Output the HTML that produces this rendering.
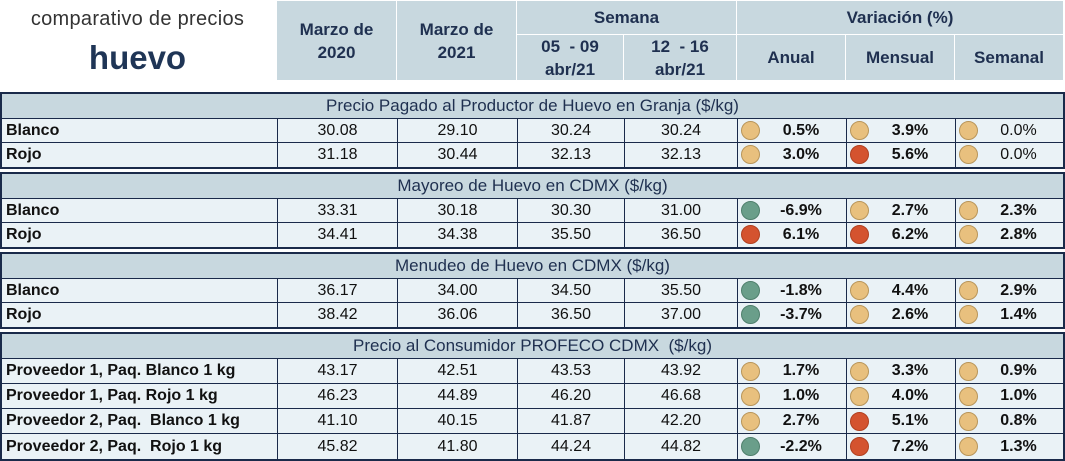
<!DOCTYPE html>
<html><head><meta charset="utf-8">
<style>
body{margin:0;width:1065px;height:460px;background:#fff;position:relative;overflow:hidden;font-family:"Liberation Sans",sans-serif;}
.a{position:absolute;box-sizing:border-box;}
.h{background:#c8d8df;color:#1f3050;font-weight:bold;font-size:17px;display:flex;align-items:center;justify-content:center;text-align:center;line-height:23px;}
.c{background:#eaf2f6;border-right:1px solid #1a2a4a;border-bottom:1px solid #1a2a4a;display:flex;align-items:center;font-size:16px;color:#111;white-space:pre;}
.s{background:#c8d8df;border-bottom:1px solid #1a2a4a;display:flex;align-items:center;justify-content:center;font-size:17px;color:#1f3050;white-space:pre;}
.box{border:2px solid #1a2a4a;}
.dot{position:absolute;left:3px;width:19px;height:19px;border-radius:50%;box-sizing:border-box;}
</style></head><body>
<div class="a" style="left:0;top:8px;width:275px;text-align:center;font-size:20px;color:#333;letter-spacing:0.3px">comparativo de precios</div>
<div class="a" style="left:0;top:39px;width:275px;text-align:center;font-size:33px;font-weight:bold;color:#1f3556">huevo</div>
<div class="a h" style="left:277px;top:1px;width:119px;height:79px">Marzo de<br>2020</div>
<div class="a h" style="left:397px;top:1px;width:119px;height:79px">Marzo de<br>2021</div>
<div class="a h" style="left:517px;top:1px;width:219px;height:33px">Semana</div>
<div class="a h" style="left:737px;top:1px;width:326px;height:33px">Variación (%)</div>
<div class="a h" style="left:517px;top:35px;width:106px;height:45px">05 &nbsp;- 09<br>abr/21</div>
<div class="a h" style="left:624px;top:35px;width:112px;height:45px">12 &nbsp;- 16<br>abr/21</div>
<div class="a h" style="left:737px;top:35px;width:108px;height:45px">Anual</div>
<div class="a h" style="left:846px;top:35px;width:108px;height:45px">Mensual</div>
<div class="a h" style="left:955px;top:35px;width:108px;height:45px">Semanal</div>
<div id="t"></div>
<script>
const sections=["Precio Pagado al Productor de Huevo en Granja ($/kg)","Mayoreo de Huevo en CDMX ($/kg)","Menudeo de Huevo en CDMX ($/kg)","Precio al Consumidor PROFECO CDMX  ($/kg)"];
const labels=[["Blanco","Rojo"],["Blanco","Rojo"],["Blanco","Rojo"],["Proveedor 1, Paq. Blanco 1 kg","Proveedor 1, Paq. Rojo 1 kg","Proveedor 2, Paq.  Blanco 1 kg","Proveedor 2, Paq.  Rojo 1 kg"]];
const prices=[[[30.08,29.10,30.24,30.24],[31.18,30.44,32.13,32.13]],[[33.31,30.18,30.30,31.00],[34.41,34.38,35.50,36.50]],[[36.17,34.00,34.50,35.50],[38.42,36.06,36.50,37.00]],[[43.17,42.51,43.53,43.92],[46.23,44.89,46.20,46.68],[41.10,40.15,41.87,42.20],[45.82,41.80,44.24,44.82]]];
const vars=[[[0.5,3.9,0.0],[3.0,5.6,0.0]],[[-6.9,2.7,2.3],[6.1,6.2,2.8]],[[-1.8,4.4,2.9],[-3.7,2.6,1.4]],[[1.7,3.3,0.9],[1.0,4.0,1.0],[2.7,5.1,0.8],[-2.2,7.2,1.3]]];
const tops=[92,172,252,332];
const colX=[1,277,397,517,624,737,846,955,1063];
const t=document.getElementById('t');
function color(v){return v<0?['#6a9e8a','#4f7f6c']:(v>=5?['#d4532f','#b04020']:['#e8c07e','#b8955a']);}
sections.forEach((s,i)=>{
  const rowH=i==3?25:24;
  const n=labels[i].length;
  const box=document.createElement('div');
  box.className='a box';
  
  
  box.style.cssText=`left:0;top:${tops[i]}px;width:1065px;height:${25+n*rowH+4}px;background:#eaf2f6`;
  t.appendChild(box);
  const hd=document.createElement('div');
  hd.className='a s';
  
  
  hd.style.cssText=`left:0;top:0;width:1061px;height:25px`;
  hd.textContent=s;
  box.appendChild(hd);
  labels[i].forEach((lb,r)=>{
    const y=25+r*rowH;
    for(let c=0;c<8;c++){
      const d=document.createElement('div');
      d.className='a c';
      
      const x=colX[c]-1,w=colX[c+1]-colX[c]+(c==7?-1:0);
      d.style.cssText=`left:${x}px;top:${y}px;width:${w}px;height:${rowH}px;`+(c==7?'border-right:none;':'')+(r==n-1?'border-bottom:none;':'');
      if(c==0){d.style.fontWeight='bold';d.style.paddingLeft='4px';d.textContent=lb;}
      else if(c<5){d.style.justifyContent='center';d.textContent=prices[i][r][c-1].toFixed(2);}
      else{
        const v=vars[i][r][c-5];
        
        d.style.justifyContent='center';d.style.paddingLeft='18px';
        if(!(c==7&&i==0))d.style.fontWeight='bold';
        const dot=document.createElement('span');
        dot.className='dot';
        
        
        const col=color(v);
        dot.style.background=col[0];dot.style.border='1px solid '+col[1];
        dot.style.top=Math.round((rowH-19)/2-0.5)+'px';
        d.appendChild(dot);
        d.appendChild(document.createTextNode(v.toFixed(1)+'%'));
      }
      box.appendChild(d);
    }
  });
});
</script>
</body></html>
